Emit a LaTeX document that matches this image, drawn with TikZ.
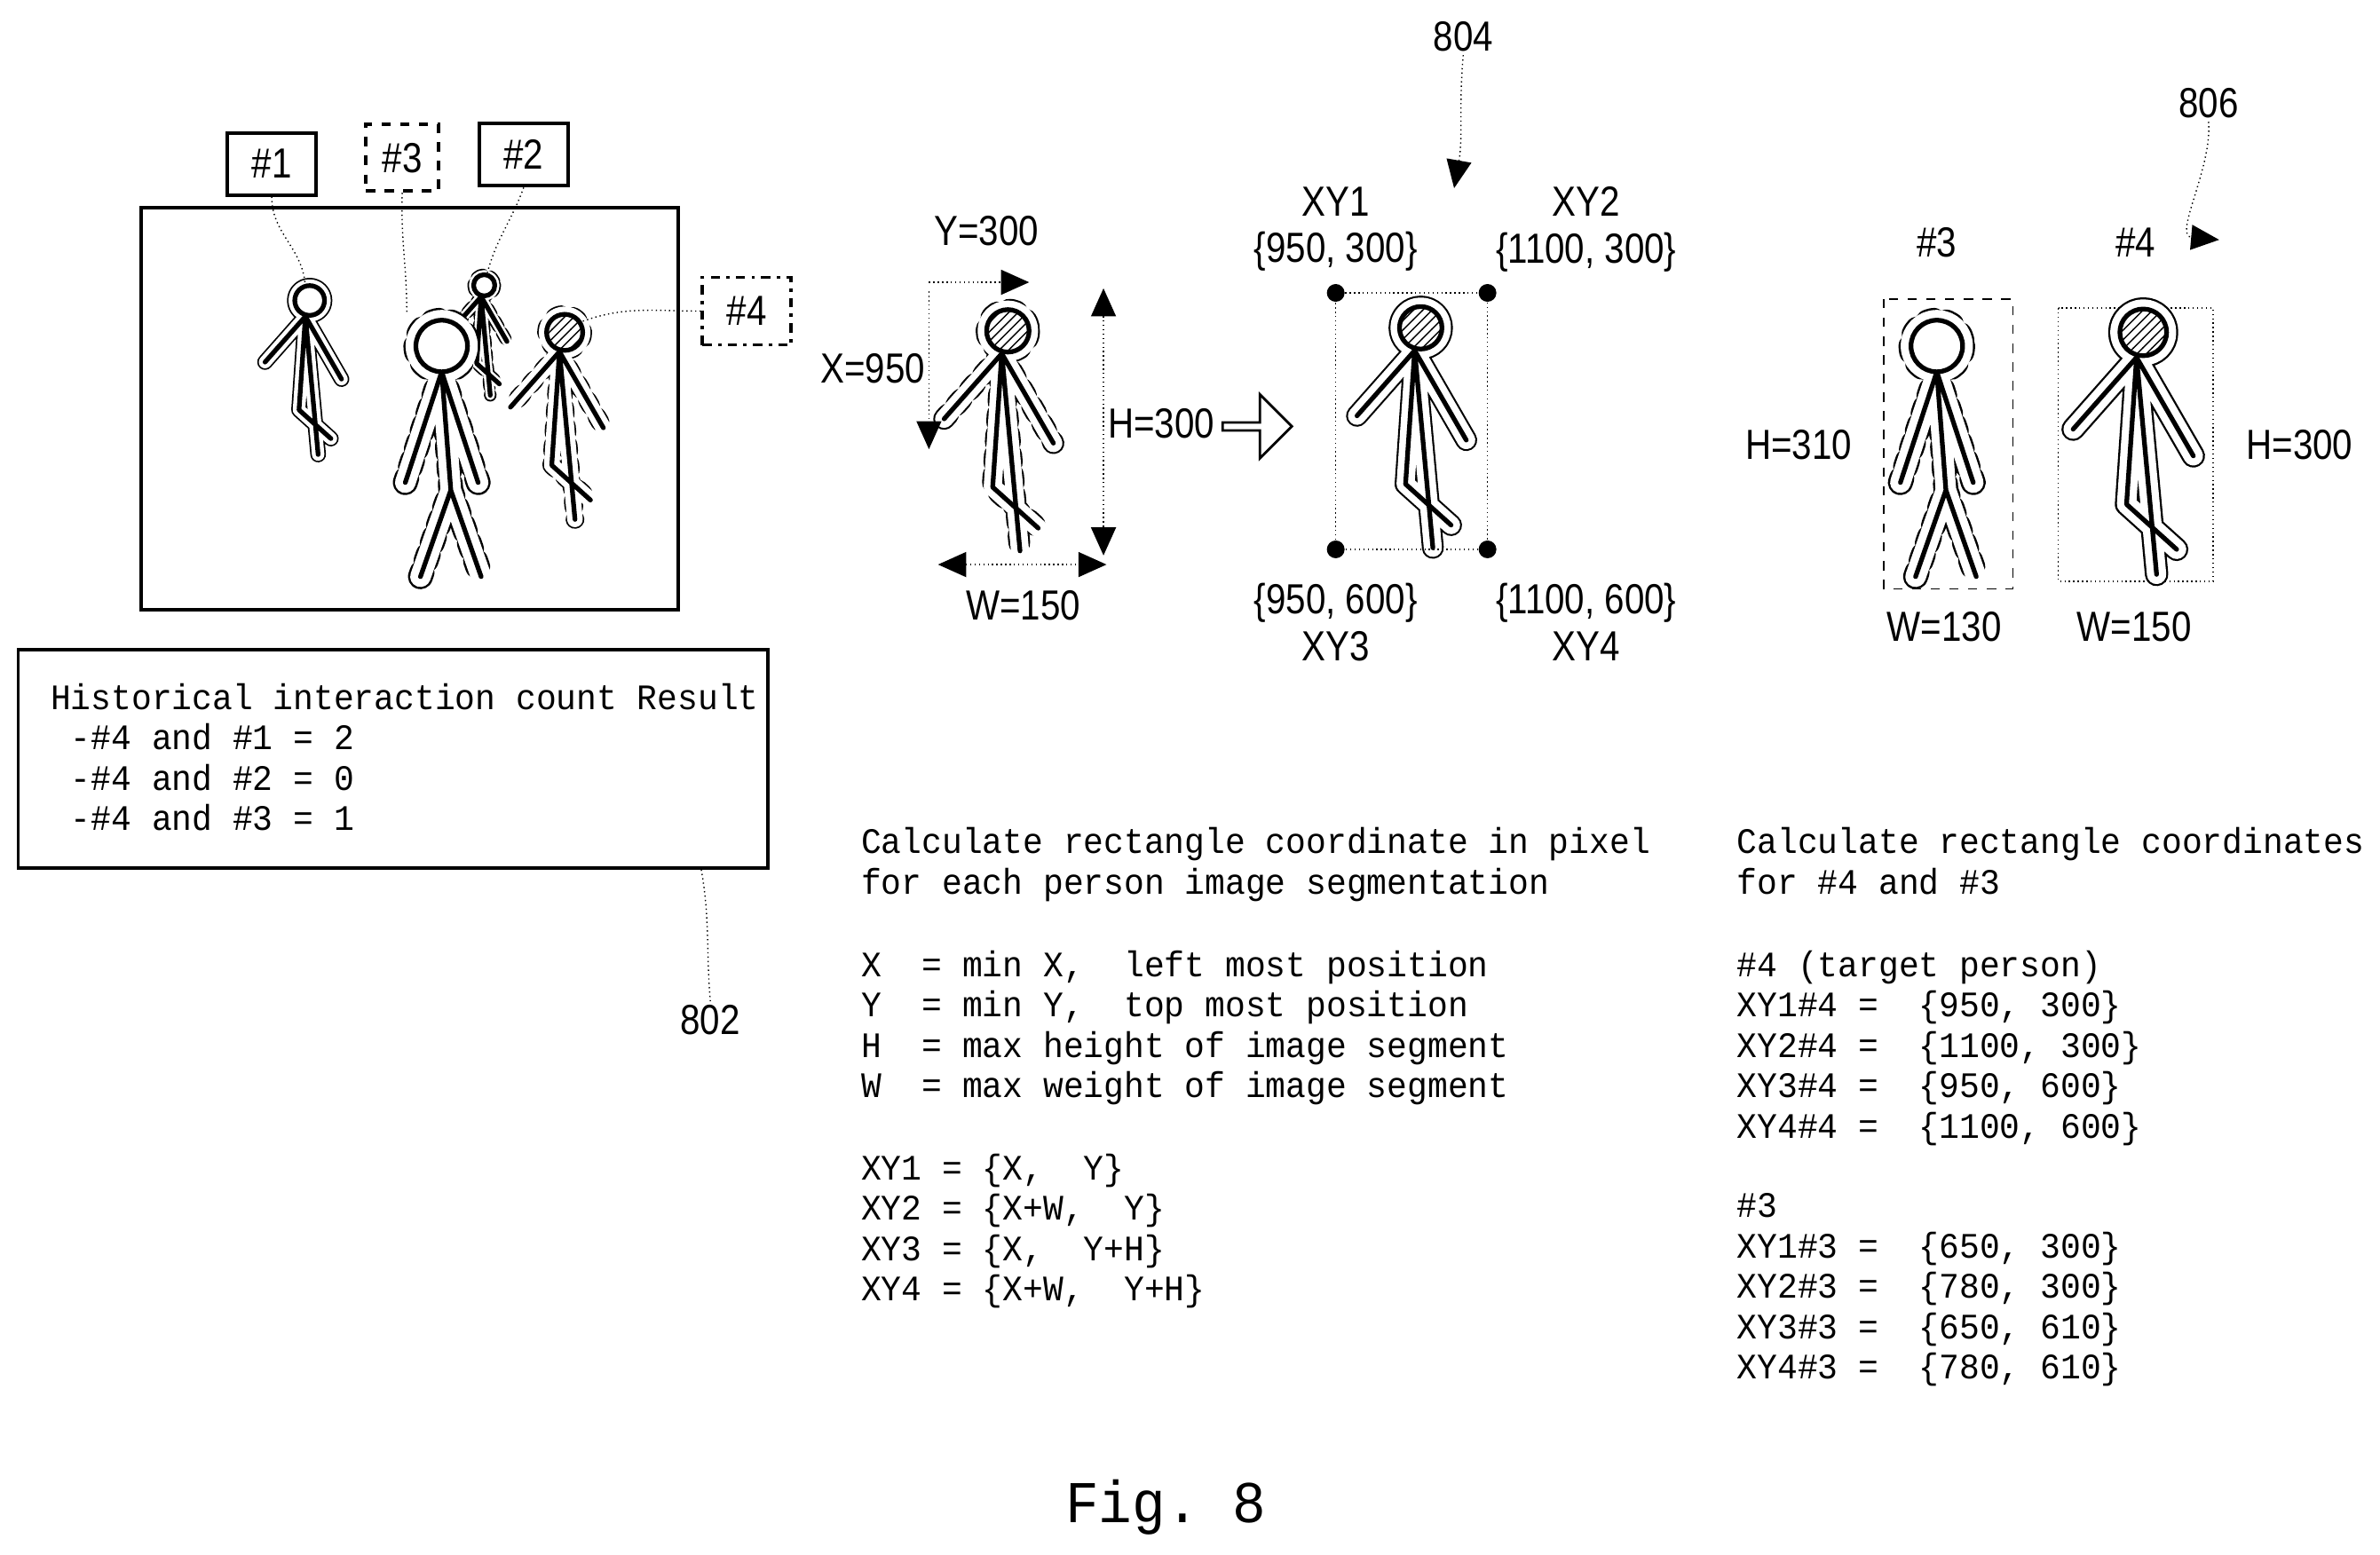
\documentclass[tikz,border=0pt]{standalone}
\usepackage{fontspec}
\setmainfont{Liberation Mono}[FakeStretch=0.94]
\newfontfamily\lblfont{Liberation Sans}[FakeStretch=0.85]
\usetikzlibrary{positioning,patterns,shapes.arrows,arrows.meta}

\tikzset{
  txt/.style={anchor=north west, align=left, inner sep=0pt, font=\fontsize{11.5}{12.95}\selectfont},
  lbl/.style={font=\lblfont\fontsize{13.5}{15}\selectfont, inner sep=1pt},
  tag/.style={draw, line width=1.1pt, minimum width=1.0cm, minimum height=0.7cm, inner sep=0pt, font=\lblfont\fontsize{13.5}{15}\selectfont},
  leader/.style={densely dotted, thin},
  halo/.style={line width=#1, line join=round, line cap=round},
  bone/.style={line width=1.5pt, line cap=round, line join=round},
  dim/.style={densely dotted, thin},
  tip/.style={-{Triangle[length=9pt,width=8pt]}},
  tips/.style={{Triangle[length=9pt,width=8pt]}-{Triangle[length=9pt,width=8pt]}},
  corner/.style={circle, fill, inner sep=0pt, minimum size=0.2cm},
}

% walking person facing left: x, y, scale, outer halo, inner halo, head
\def\walkpath{(-4,15) -- (-42,58) (-4,15) -- (30,74) (-4,15) -- (-10,103) -- (20,130) (-4,15) -- (8,145)}
\newcommand{\walkfig}[6]{%
  \begin{scope}[shift={(#1,#2)},scale=#3]
    \draw[#4] (0,0) circle (14) \walkpath;
    \draw[white,#5] (0,0) circle (14) \walkpath;
    \draw[bone] \walkpath;
    \fill[white] (0,0) circle (14);
    \draw[bone,#6] (0,0) circle (14);
  \end{scope}}
% person seen from the front
\def\frontpath{(0,17) -- (-24,90) (0,17) -- (24,90) (0,17) -- (6,95) -- (-14,152) (6,95) -- (26,152)}
\newcommand{\frontfig}[2]{%
  \begin{scope}[shift={(#1,#2)}]
    \draw[halo=8pt, dash pattern=on 2pt off 4pt] (0,0) circle (17) \frontpath;
    \draw[white,halo=6.6pt] (0,0) circle (17) \frontpath;
    \draw[bone] \frontpath;
    \fill[white] (0,0) circle (17);
    \draw[bone] (0,0) circle (17);
  \end{scope}}

\begin{document}
\begin{tikzpicture}[x=0.0171cm,y=-0.0171cm]
\useasboundingbox (0,0) rectangle (1568,1024.6);

% scene
\draw[line width=1.1pt] (93,137) rectangle (447,402);
\node[tag] (tag1) at (179,108) {\#1};
\node[tag, dashed, minimum width=0.82cm, minimum height=0.75cm] (tag3) at (265,104) {\#3};
\node[tag] (tag2) at (345,102) {\#2};
\node[tag, dash dot, minimum height=0.76cm] (tag4) at (492,205) {\#4};

\walkfig{204}{198}{0.7}{halo=5pt}{halo=4pt}{}
\walkfig{319}{188}{0.5}{halo=4pt, dash pattern=on 2pt off 2.5pt}{halo=3pt}{}
\frontfig{291}{228}
\walkfig{372}{219}{0.85}{halo=6pt, dash pattern=on 2pt off 4pt}{halo=5pt}{pattern=north east lines}

\coordinate (h1) at (201,187);
\coordinate (h3) at (268,206);
\coordinate (h2) at (321,180);
\coordinate (h4) at (383,212);
\draw[leader] (tag1.south) to[out=-90,in=95] (h1);
\draw[leader] (tag3.south) to[out=-92,in=90] (h3);
\draw[leader] (tag2.south) to[out=-110,in=75] (h2);
\draw[leader] (tag4.west) to[out=180,in=20] (h4);

% result box
\draw[line width=1.1pt] (12,428) rectangle (506,572);
\node[txt] (hist) at (33,450) {Historical interaction count Result\\
~-\#4 and \#1 = 2\\
~-\#4 and \#2 = 0\\
~-\#4 and \#3 = 1};
\coordinate (b802) at (462,573);
\node[lbl] (n802) at (468,672) {802};
\draw[leader] (b802) to[out=-80,in=95] (n802.north);

% measured person
\walkfig{664}{218}{1}{halo=7pt, dash pattern=on 2.5pt off 4pt}{halo=5.8pt}{pattern=north east lines}
\coordinate (ys) at (612,186);
\coordinate (ye) at (678,186);
\coordinate (xs) at (612,192);
\coordinate (xe) at (612,296);
\coordinate (hs) at (727,190);
\coordinate (he) at (727,366);
\coordinate (ws) at (618,372);
\coordinate (we) at (729,372);
\draw[dim,tip] (ys) -- (ye);
\draw[dim,tip] (xs) -- (xe);
\draw[dim,tips] (hs) -- (he);
\draw[dim,tips] (ws) -- (we);
\node[lbl] (ylbl) at (650,152) {Y=300};
\node[lbl] (xlbl) at (575,243) {X=950};
\node[lbl] (hlbl) at (765,279) {H=300};
\node[lbl] (wlbl) at (674,399) {W=150};

\node[single arrow, draw, thick, minimum height=0.78cm, minimum width=0.72cm,
  single arrow head extend=0.1cm, inner sep=0pt] (step) at (827,281) {};

% corner points 804
\walkfig{936}{216}{1}{halo=7pt}{halo=5.8pt}{pattern=north east lines}
\node[corner] (c1) at (880,193) {};
\node[corner] (c2) at (980,193) {};
\node[corner] (c3) at (880,362) {};
\node[corner] (c4) at (980,362) {};
\draw[dim] (c1) -- (c2) -- (c4) -- (c3) -- (c1);
\node[lbl, align=center] (l1) at (880,151) {XY1\\\{950, 300\}};
\node[lbl, align=center] (l2) at (1045,151) {XY2\\\{1100, 300\}};
\node[lbl, align=center] (l3) at (880,410) {\{950, 600\}\\XY3};
\node[lbl, align=center] (l4) at (1045,410) {\{1100, 600\}\\XY4};
\node[lbl] (n804) at (964,24) {804};
\coordinate (a804) at (958,124);
\draw[leader,tip] (n804.south) to[out=-95,in=80] (a804);

% separated persons 806
\draw[dashed, thin] (1241,197) rectangle (1326,388);
\draw[densely dotted, thin] (1356,203) rectangle (1458,383);
\frontfig{1276}{228}
\walkfig{1412}{219}{1.1}{halo=7.5pt}{halo=6.2pt}{pattern=north east lines}
\node[lbl] (t3) at (1276,160) {\#3};
\node[lbl] (t4) at (1407,160) {\#4};
\node[lbl] (h310) at (1185,293) {H=310};
\node[lbl] (h300) at (1515,293) {H=300};
\node[lbl] (w130) at (1281,413) {W=130};
\node[lbl] (w150) at (1406,413) {W=150};
\node[lbl] (n806) at (1455,68) {806};
\coordinate (a806) at (1462,158);
\draw[leader,tip] (n806.south) to[out=-85,in=175] (a806);

% formulas
\node[txt] (p1) at (567,545) {Calculate rectangle coordinate in pixel\\for each person image segmentation};
\node[txt] (p2) at (567,626) {X~~= min X,~~left most position\\
Y~~= min Y,~~top most position\\
H~~= max height of image segment\\
W~~= max weight of image segment};
\node[txt] (p3) at (567,760) {XY1 = \{X,~~Y\}\\
XY2 = \{X+W,~~Y\}\\
XY3 = \{X,~~Y+H\}\\
XY4 = \{X+W,~~Y+H\}};
\node[txt] (q1) at (1144,545) {Calculate rectangle coordinates\\for \#4 and \#3};
\node[txt] (q2) at (1144,626) {\#4 (target person)\\
XY1\#4 =~~\{950, 300\}\\
XY2\#4 =~~\{1100, 300\}\\
XY3\#4 =~~\{950, 600\}\\
XY4\#4 =~~\{1100, 600\}};
\node[txt] (q3) at (1144,786) {\#3\\
XY1\#3 =~~\{650, 300\}\\
XY2\#3 =~~\{780, 300\}\\
XY3\#3 =~~\{650, 610\}\\
XY4\#3 =~~\{780, 610\}};

\node[font=\fontsize{19}{22}\selectfont] (fig) at (768,993) {Fig.~8};
\end{tikzpicture}
\end{document}
